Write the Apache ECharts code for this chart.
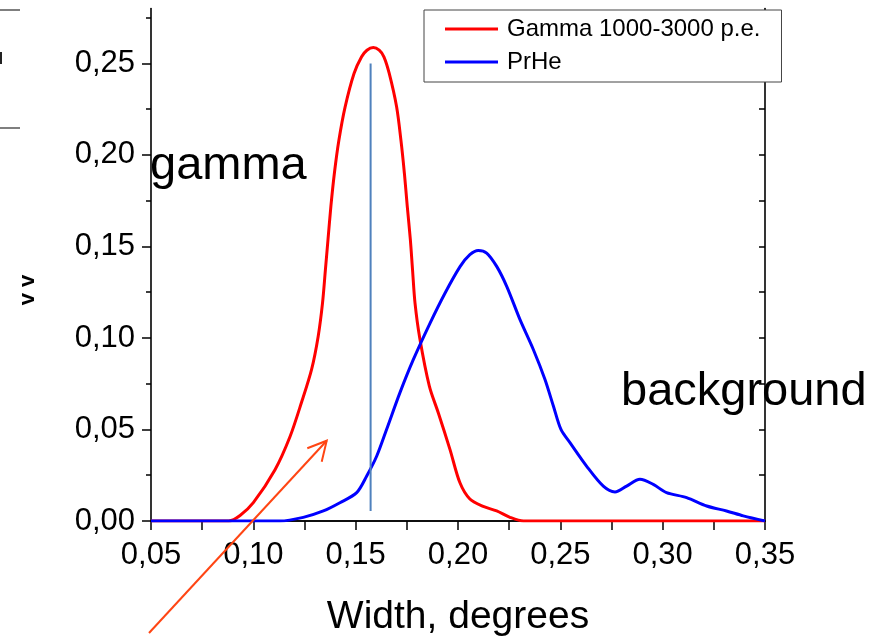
<!DOCTYPE html>
<html>
<head>
<meta charset="utf-8">
<script src="https://cdn.jsdelivr.net/npm/echarts@6/dist/echarts.min.js"></script>
<style>
html,body{margin:0;padding:0;background:#fff;}
#chart{width:875px;height:642px;}
</style>
</head>
<body>
<div id="chart"></div>
<script>
// ---- data ----
const gammaWidth = [0.05, 0.08, 0.088, 0.0935, 0.100, 0.1106, 0.1179, 0.1236, 0.1285, 0.1317, 0.1338, 0.1352, 0.1365, 0.1379, 0.1396, 0.1418, 0.1448, 0.1492, 0.1529, 0.1555, 0.1586, 0.1615, 0.1638, 0.1664, 0.170, 0.1721, 0.1738, 0.1752, 0.1767, 0.1778, 0.179, 0.1813, 0.186, 0.1904, 0.1961, 0.2009, 0.2058, 0.2123, 0.2189, 0.2254, 0.232, 0.35];
const gammaValue = [0, 0, 0, 0.003, 0.010, 0.028, 0.046, 0.065, 0.083, 0.101, 0.119, 0.137, 0.154, 0.172, 0.190, 0.208, 0.226, 0.2445, 0.2536, 0.2572, 0.2587, 0.2572, 0.2536, 0.2445, 0.2263, 0.2082, 0.190, 0.172, 0.154, 0.137, 0.119, 0.100, 0.0737, 0.059, 0.039, 0.021, 0.012, 0.008, 0.0055, 0.002, 0, 0];

const prheWidth = [0.05, 0.10, 0.113, 0.1244, 0.1342, 0.1423, 0.1505, 0.1554, 0.1603, 0.1651, 0.1716, 0.1781, 0.1863, 0.1937, 0.201, 0.2058, 0.2099, 0.214, 0.2189, 0.2238, 0.2303, 0.2368, 0.2425, 0.2466, 0.2503, 0.2547, 0.2628, 0.271, 0.2767, 0.2824, 0.2889, 0.2954, 0.3019, 0.3117, 0.3215, 0.3312, 0.3394, 0.35];
const prheValue = [0, 0, 0, 0.002, 0.0055, 0.010, 0.0155, 0.0246, 0.0355, 0.050, 0.070, 0.088, 0.108, 0.1246, 0.139, 0.1455, 0.1478, 0.1464, 0.1391, 0.1282, 0.110, 0.0937, 0.0773, 0.0628, 0.050, 0.0428, 0.030, 0.019, 0.0159, 0.0191, 0.0228, 0.020, 0.0155, 0.0128, 0.0082, 0.0055, 0.0028, 0];

const cutWidth = [0.1573, 0.1573];
const cutValue = [0.0055, 0.25];

const seriesNames = ['Gamma 1000-3000 p.e.', 'PrHe'];
const yMajorTicks = [0, 0.05, 0.10, 0.15, 0.20, 0.25];
const yMinorTicks = [0.025, 0.075, 0.125, 0.175, 0.225, 0.275];
const yAllTicks = [0, 0.025, 0.05, 0.075, 0.10, 0.125, 0.15, 0.175, 0.20, 0.225, 0.25, 0.275];
const xTitle = 'Width, degrees';

// ---- chart ----
const FONT = '"Liberation Sans", Arial, sans-serif';
const pair = (xs, ys) => xs.map((x, i) => [x, ys[i]]);
const fmt = v => v.toFixed(2).replace('.', ',');
const axisLine = { show: true, lineStyle: { color: '#000', width: 1.6 } };

const chart = echarts.init(document.getElementById('chart'), null, { renderer: 'canvas' });
chart.setOption({
  animation: false,
  backgroundColor: '#fff',
  textStyle: { fontFamily: FONT },
  grid: { left: 151, right: 110, top: 8.5, bottom: 120 },
  legend: {
    data: seriesNames,
    orient: 'vertical',
    left: 424, top: 10,
    padding: [4, 21, 5, 21],
    itemGap: 3,
    itemWidth: 53, itemHeight: 3,
    icon: 'rect',
    backgroundColor: '#fff',
    borderColor: '#444', borderWidth: 1,
    textStyle: { fontFamily: FONT, fontSize: 24, color: '#000', lineHeight: 30, padding: [0, 0, 0, 4] },
    z: 10
  },
  xAxis: [
    {
      type: 'value', position: 'bottom', min: 0.05, max: 0.35, interval: 0.05,
      axisLine: axisLine,
      axisTick: { show: true, inside: false, length: 9, lineStyle: { color: '#000', width: 1.5 } },
      minorTick: { show: true, splitNumber: 2, length: 5, lineStyle: { color: '#000', width: 1.5 } },
      axisLabel: { formatter: fmt, fontFamily: FONT, fontSize: 31, color: '#000', margin: 19 },
      splitLine: { show: false },
      name: xTitle, nameLocation: 'middle', nameGap: 77,
      nameTextStyle: { fontFamily: FONT, fontSize: 39, color: '#000' }
    },
    {
      type: 'value', position: 'top', min: 0.05, max: 0.35, interval: 0.025,
      axisLine: axisLine,
      axisTick: { show: true, inside: true, length: 9, lineStyle: { color: '#000', width: 1.5 } },
      axisLabel: { show: false },
      splitLine: { show: false }
    }
  ],
  yAxis: [
    {
      type: 'value', position: 'left', min: 0, max: 0.28, interval: 0.05,
      axisLine: axisLine,
      axisTick: { show: true, inside: false, length: 9, customValues: yMajorTicks, lineStyle: { color: '#000', width: 1.5 } },
      axisLabel: { customValues: yMajorTicks, formatter: fmt, fontFamily: FONT, fontSize: 31, color: '#000', margin: 16 },
      splitLine: { show: false }
    },
    {
      type: 'value', position: 'left', min: 0, max: 0.28, interval: 0.05,
      axisLine: { show: false },
      axisTick: { show: true, inside: false, length: 5, customValues: yMinorTicks, lineStyle: { color: '#000', width: 1.5 } },
      axisLabel: { show: false },
      splitLine: { show: false }
    },
    {
      type: 'value', position: 'right', min: 0, max: 0.28, interval: 0.05,
      axisLine: axisLine,
      axisTick: { show: true, inside: true, length: 6, customValues: yAllTicks, lineStyle: { color: '#000', width: 1.5 } },
      axisLabel: { show: false },
      splitLine: { show: false }
    }
  ],
  series: [
    {
      name: seriesNames[0], type: 'line', xAxisIndex: 0, yAxisIndex: 0,
      data: pair(gammaWidth, gammaValue), smooth: 0.3, showSymbol: false,
      color: '#ff0000', lineStyle: { color: '#ff0000', width: 3 }, z: 3
    },
    {
      name: seriesNames[1], type: 'line', xAxisIndex: 0, yAxisIndex: 0,
      data: pair(prheWidth, prheValue), smooth: 0.3, showSymbol: false,
      color: '#0000ff', lineStyle: { color: '#0000ff', width: 3 }, z: 4
    },
    {
      name: 'cut', type: 'line', xAxisIndex: 0, yAxisIndex: 0,
      data: pair(cutWidth, cutValue), showSymbol: false,
      color: '#4f81bd', lineStyle: { color: '#4f81bd', width: 2 }, z: 5
    }
  ],
  graphic: [
    { type: 'text', x: 150, y: 166, z: 20,
      style: { text: 'gamma', font: '47px ' + FONT, fill: '#000', align: 'left', verticalAlign: 'middle' } },
    { type: 'text', x: 621, y: 392, z: 20,
      style: { text: 'background', font: '47px ' + FONT, fill: '#000', align: 'left', verticalAlign: 'middle' } },
    { type: 'line', z: 20, shape: { x1: 149, y1: 633, x2: 326.7, y2: 440.7 },
      style: { stroke: '#ff4513', lineWidth: 2 } },
    { type: 'polyline', z: 20, shape: { points: [[307.3, 448.3], [326.7, 440.7], [321.7, 461.7]] },
      style: { stroke: '#ff4513', lineWidth: 2, fill: null } },
    { type: 'line', z: 20, shape: { x1: 0, y1: 10, x2: 20, y2: 10 }, style: { stroke: '#555', lineWidth: 1.5 } },
    { type: 'line', z: 20, shape: { x1: 0, y1: 128, x2: 20, y2: 128 }, style: { stroke: '#555', lineWidth: 1.5 } },
    { type: 'line', z: 20, shape: { x1: 1, y1: 52, x2: 1, y2: 64 }, style: { stroke: '#222', lineWidth: 2 } },
    { type: 'text', x: 28, y: 290, rotation: Math.PI / 2, z: 20,
      style: { text: 'v v', font: 'bold 22px ' + FONT, fill: '#000', align: 'center', verticalAlign: 'middle' } }
  ]
});
</script>
</body>
</html>
